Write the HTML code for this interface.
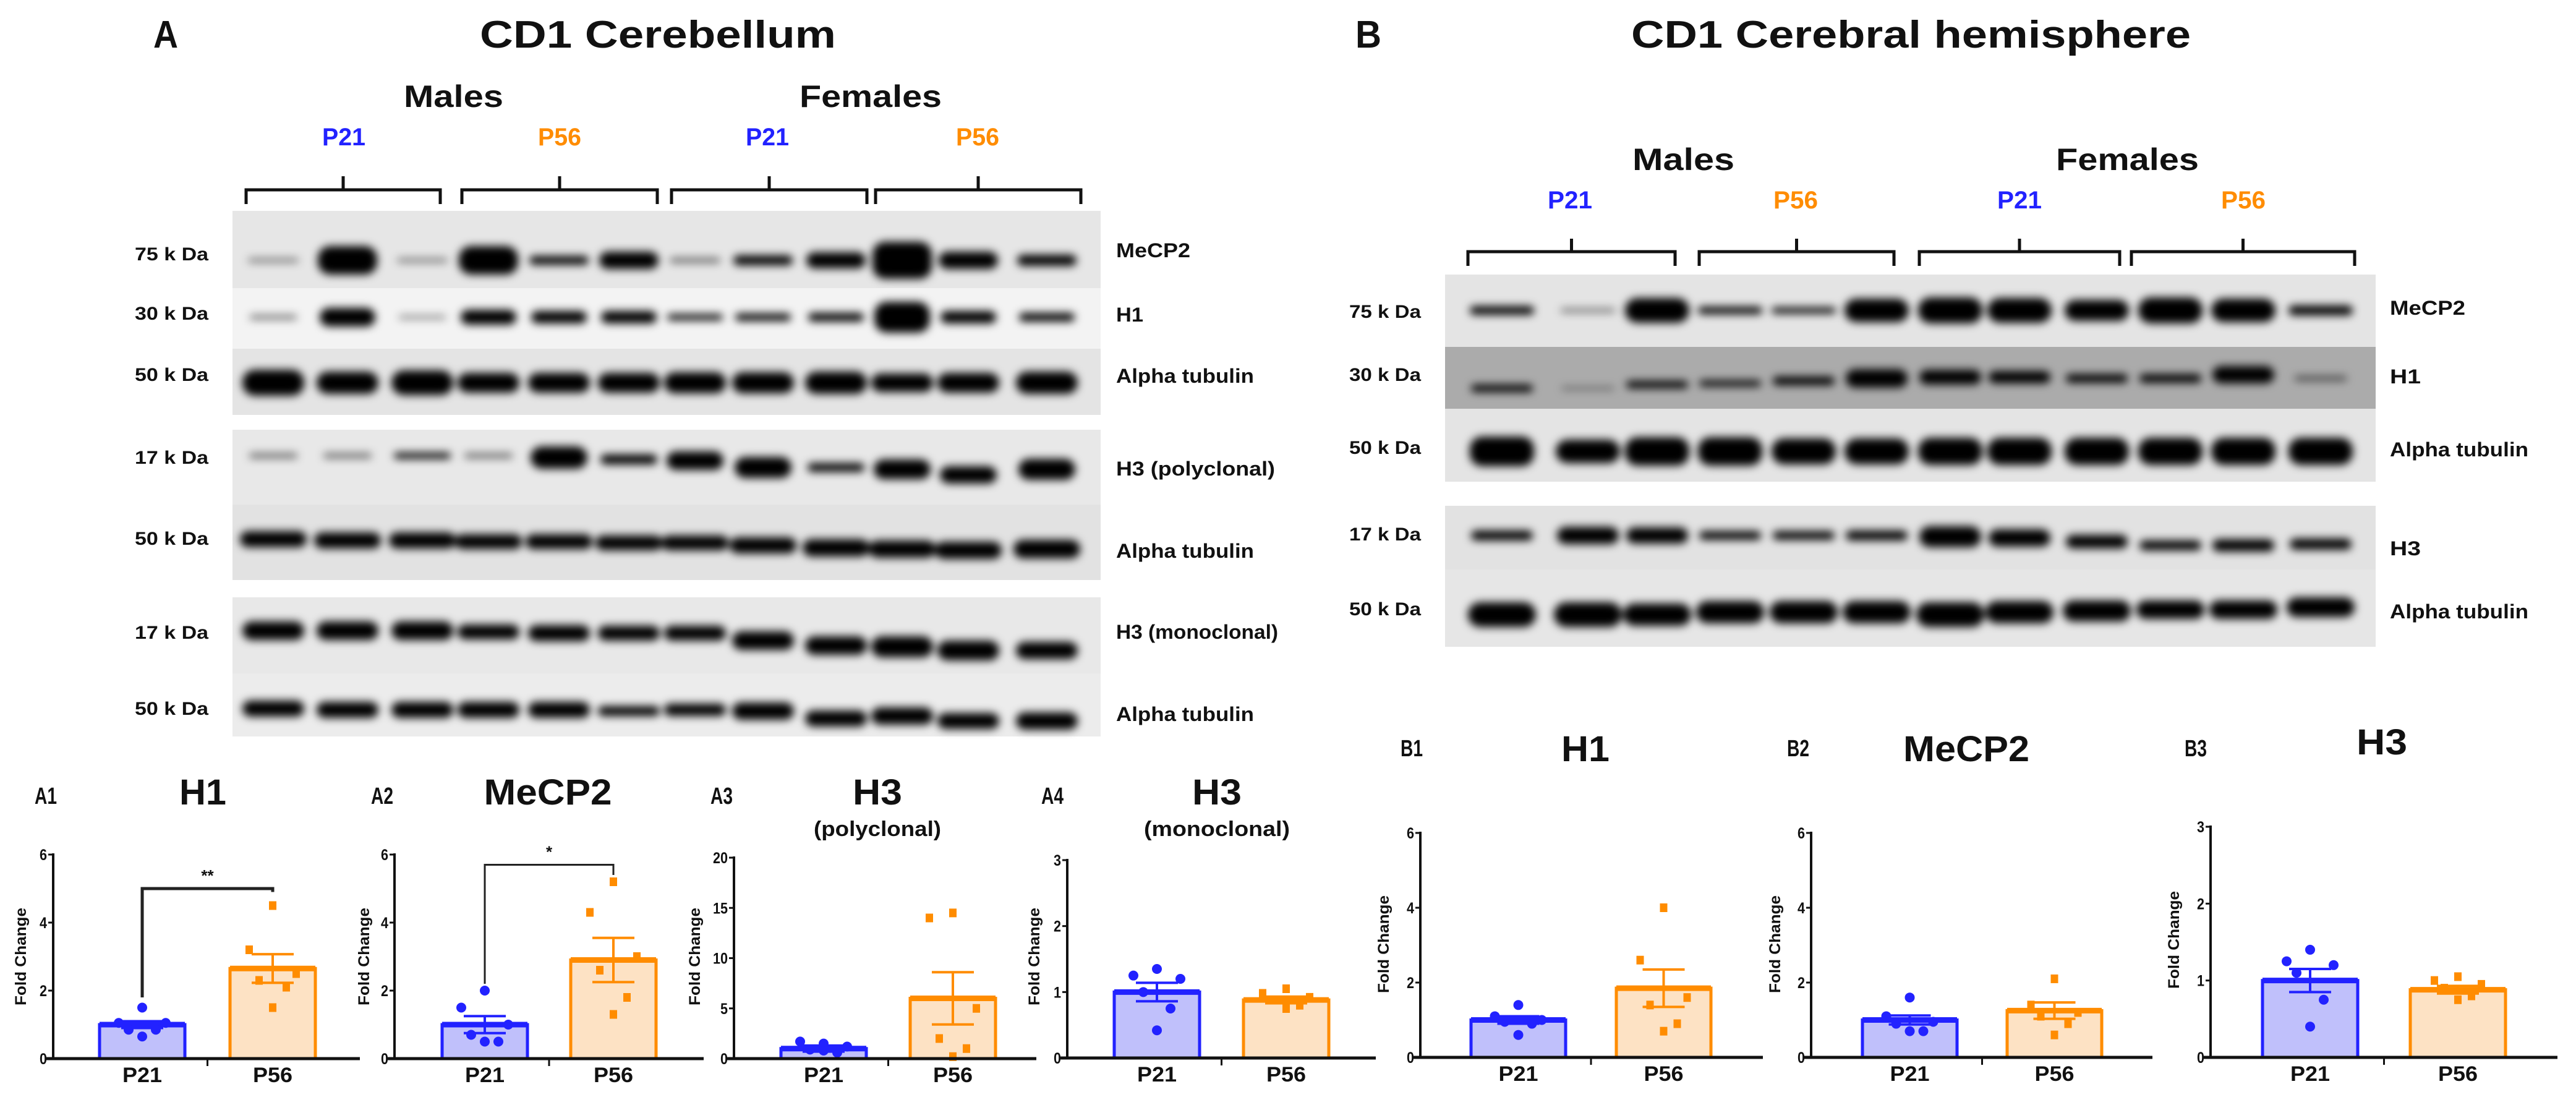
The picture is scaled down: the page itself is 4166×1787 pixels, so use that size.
<!DOCTYPE html>
<html><head><meta charset="utf-8"><style>
html,body{margin:0;padding:0;background:#fff;}
svg{display:block;}
text{font-family:"Liberation Sans",sans-serif;font-weight:bold;fill:#111;}
</style></head><body>
<svg id="fig" width="4166" height="1787" viewBox="0 0 4166 1787" xmlns="http://www.w3.org/2000/svg">
<defs>
<filter id="blur" x="-30%" y="-100%" width="160%" height="300%"><feGaussianBlur stdDeviation="7"/></filter>
</defs>
<g id="static">
<text x="248" y="77" font-size="62" textLength="40" lengthAdjust="spacingAndGlyphs">A</text>
<text x="776" y="77" font-size="62" textLength="576" lengthAdjust="spacingAndGlyphs">CD1 Cerebellum</text>
<text x="2192" y="77" font-size="62" textLength="42" lengthAdjust="spacingAndGlyphs">B</text>
<text x="2638" y="77" font-size="62" textLength="905" lengthAdjust="spacingAndGlyphs">CD1 Cerebral hemisphere</text>
<text x="653" y="173" font-size="50" textLength="161" lengthAdjust="spacingAndGlyphs">Males</text>
<text x="1293" y="173" font-size="50" textLength="230" lengthAdjust="spacingAndGlyphs">Females</text>
<text x="2640" y="275" font-size="50" textLength="165" lengthAdjust="spacingAndGlyphs">Males</text>
<text x="3325" y="275" font-size="50" textLength="231" lengthAdjust="spacingAndGlyphs">Females</text>
</g>
<g id="blots"></g>
<g id="charts"></g>
</svg>
<script>
// ---- chart data ----
const groups = ["P21","P56"];
const a1P21 = [1.5,1.05,1.05,0.85,0.85,0.65];
const a1P56 = [4.5,3.2,2.5,2.3,2.1,1.5];
const a1Mean = [1.0,2.65];
const a1Sem = [0.1,0.42];
const a2P21 = [2.0,1.5,1.0,0.7,0.5,0.5];
const a2P56 = [5.2,4.3,3.0,2.6,1.8,1.3];
const a2Mean = [1.0,2.9];
const a2Sem = [0.25,0.65];
const a3P21 = [1.5,1.7,1.2,0.9,0.6,0.8];
const a3P56 = [14.5,14.0,5.0,2.0,1.0,0.2];
const a3Mean = [1.0,6.0];
const a3Sem = [0.3,2.6];
const a4P21 = [1.35,1.25,1.2,1.0,0.75,0.42];
const a4P56 = [1.05,0.98,0.92,0.88,0.8,0.75];
const a4Mean = [1.0,0.88];
const a4Sem = [0.14,0.05];
const b1P21 = [1.4,1.1,1.0,0.95,0.9,0.6];
const b1P56 = [4.0,2.6,1.6,1.4,0.9,0.7];
const b1Mean = [1.0,1.85];
const b1Sem = [0.1,0.5];
const b2P21 = [1.6,1.1,0.95,0.9,0.7,0.7];
const b2P56 = [2.1,1.4,1.2,1.1,0.9,0.6];
const b2Mean = [1.0,1.25];
const b2Sem = [0.12,0.22];
const b3P21 = [1.4,1.25,1.2,1.1,0.75,0.4];
const b3P56 = [1.05,1.0,0.95,0.9,0.8,0.75];
const b3Mean = [1.0,0.88];
const b3Sem = [0.15,0.05];
const ticks6 = [0,2,4,6];
const ticks20 = [0,5,10,15,20];
const ticks3 = [0,1,2,3];

const NS="http://www.w3.org/2000/svg";
function mk(parent,tag,attrs,txt){const e=document.createElementNS(NS,tag);for(const k in attrs)e.setAttribute(k,attrs[k]);if(txt!==undefined)e.textContent=txt;parent.appendChild(e);return e;}

// ---- blots ----
const blots=document.getElementById('blots');
const laneA=[442,562,683,790,904,1017,1124,1234,1352,1459,1566,1693];
const laneB=[2429,2568,2680,2798,2917,3035,3154,3266,3391,3510,3628,3753];
function strip(x0,x1,y0,y1,bg,lanes,ys,th,w,name){
  const g=mk(blots,'g',{});
  
  
  mk(g,'rect',{x:x0,y:y0,width:x1-x0,height:y1-y0,fill:bg});
  const bg2=mk(g,'g',{filter:'url(#blur)'});
  lanes.forEach((cx,i)=>{
    const t=th[i], y=Array.isArray(ys)?ys[i]:ys;
    const ww=w*(t<10?0.85:1);
    const b=mk(bg2,'rect',{x:cx-ww/2,y:y-t/2,width:ww,height:t,rx:Math.min(t/2,20),fill:'#000',opacity:t<10?0.6:1});
    
    
  });
}
strip(376,1780,341,466,'#e6e6e6',laneA,421,[6,46,6,46,14,28,8,16,26,60,28,18],96,'a-mecp2-blot');
strip(376,1780,466,564,'#f3f3f3',laneA,513,[7,30,5,24,20,20,10,12,14,50,20,14],90,'a-h1-blot');
strip(376,1780,564,671,'#e4e4e4',laneA,619,[42,36,40,32,32,32,34,34,36,30,32,36],100,'a-tubulin-blot-1');
strip(376,1780,695,816,'#e8e8e8',laneA,[737,737,737,737,740,743,745,756,756,759,768,759],[8,8,10,8,36,16,30,34,14,32,28,34],92,'a-h3-poly-blot');
strip(376,1780,816,938,'#e2e2e2',laneA,[872,874,874,876,876,878,878,882,886,888,890,888],[26,26,26,24,24,24,24,26,28,28,28,30],108,'a-tubulin-blot-2');
strip(376,1780,966,1089,'#e8e8e8',laneA,[1020,1020,1020,1022,1024,1024,1024,1036,1044,1046,1052,1052],[30,30,30,24,26,24,24,30,30,34,32,28],100,'a-h3-mono-blot');
strip(376,1780,1089,1191,'#ececec',laneA,[1146,1148,1148,1148,1148,1150,1148,1150,1162,1158,1166,1166],[26,26,26,26,26,16,20,28,26,28,26,28],100,'a-tubulin-blot-3');
strip(2337,3842,444,561,'#e4e4e4',laneB,502,[14,6,40,12,10,38,42,40,34,42,38,16],104,'b-mecp2-blot');
strip(2337,3842,561,661,'#ababab',laneB,[628,628,622,620,616,612,610,610,612,612,606,612],[12,4,12,10,14,30,24,20,14,14,28,8],100,'b-h1-blot');
strip(2337,3842,661,779,'#e4e4e4',laneB,730,[48,38,46,46,42,42,44,44,44,44,44,44],104,'b-tubulin-blot-1');
strip(2337,3842,818,921,'#e2e2e2',laneB,[866,866,866,866,866,866,868,870,876,882,882,880],[16,28,26,14,14,16,34,28,22,16,20,18],100,'b-h3-blot');
strip(2337,3842,921,1046,'#e6e6e6',laneB,[994,994,994,990,990,990,994,990,988,986,986,982],[40,40,36,36,36,36,40,36,34,30,30,32],110,'b-tubulin-blot-2');

function txt(x,y,s,str,anchor,len,fill,name){
  const t=mk(blots,'text',{x:x,y:y,'font-size':s,'text-anchor':anchor||'start'},str);
  if(len){t.setAttribute('textLength',len);t.setAttribute('lengthAdjust','spacingAndGlyphs');}
  if(fill)t.setAttribute('style','fill:'+fill);
  
  
}
const BLUE='#2222ff', ORANGE='#ff8c00';
function bracket(x0,x1,yTop,yBar,yBot,name){
  const p=mk(blots,'path',{d:`M${x0} ${yBot} V${yBar} H${x1} V${yBot} M${(x0+x1)/2} ${yBar} V${yTop}`,fill:'none',stroke:'#111','stroke-width':5});
  
  
}
[[398,712],[747,1063],[1086,1402],[1416,1748]].forEach(r=>bracket(r[0],r[1],285,307,330,'a-bracket'));
[[2374,2709],[2748,3063],[3104,3428],[3447,3808]].forEach(r=>bracket(r[0],r[1],386,407,430,'b-bracket'));
[[556,'P21',BLUE],[905,'P56',ORANGE],[1241,'P21',BLUE],[1581,'P56',ORANGE]].forEach(a=>txt(a[0],235,40,a[1],'middle',70,a[2],'a-age-label'));
[[2539,'P21',BLUE],[2904,'P56',ORANGE],[3266,'P21',BLUE],[3628,'P56',ORANGE]].forEach(a=>txt(a[0],337,40,a[1],'middle',72,a[2],'b-age-label'));
[[421,'75 k Da'],[517,'30 k Da'],[616,'50 k Da'],[750,'17 k Da'],[881,'50 k Da'],[1033,'17 k Da'],[1156,'50 k Da']].forEach(a=>txt(337,a[0],30,a[1],'end',119,null,'a-kda-label'));
[[514,'75 k Da'],[616,'30 k Da'],[734,'50 k Da'],[874,'17 k Da'],[995,'50 k Da']].forEach(a=>txt(2298,a[0],30,a[1],'end',116,null,'b-kda-label'));
[[416,'MeCP2',120],[520,'H1',44],[619,'Alpha tubulin',223],[769,'H3 (polyclonal)',257],[902,'Alpha tubulin',223],[1033,'H3 (monoclonal)',262],[1166,'Alpha tubulin',223]].forEach(a=>txt(1805,a[0],32,a[1],'start',a[2],null,'a-protein-label'));
[[509,'MeCP2',122],[620,'H1',50],[738,'Alpha tubulin',224],[898,'H3',50],[1000,'Alpha tubulin',224]].forEach(a=>txt(3865,a[0],32,a[1],'start',a[2],null,'b-protein-label'));

// ---- charts ----
const charts=document.getElementById('charts');
const jit=[0,-38,38,-22,22,0];
function chart(o){
  const g=mk(charts,'g',{});
  
  
  const y=v=>o.y0-(v/o.max)*(o.y0-o.yTop);
  const bx=[o.ax+o.b1,o.ax+o.b2];
  const l=mk(g,'text',{x:o.lx,y:o.ly,'font-size':38,textLength:36,lengthAdjust:'spacingAndGlyphs'},o.label);
  
  
  const t=mk(g,'text',{x:o.tx,y:o.ty,'font-size':58,'text-anchor':'middle',textLength:o.tw,lengthAdjust:'spacingAndGlyphs'},o.title);
  
  
  if(o.sub){const s=mk(g,'text',{x:o.tx,y:o.ty+51,'font-size':34,'text-anchor':'middle',textLength:o.subw,lengthAdjust:'spacingAndGlyphs'},o.sub);
    
    }
  const yl=mk(g,'text',{x:0,y:0,'font-size':25,'text-anchor':'middle',transform:`translate(${o.fx},${o.fy}) rotate(-90)`,textLength:158,lengthAdjust:'spacingAndGlyphs'},'Fold Change');
  
  
  const ya=mk(g,'line',{x1:o.ax,y1:o.yTop-2,x2:o.ax,y2:o.y0,stroke:'#111','stroke-width':4});
  
  
  o.ticks.forEach(v=>{
    mk(g,'line',{x1:o.ax-8,y1:y(v),x2:o.ax,y2:y(v),stroke:'#111','stroke-width':3});
    const tl=mk(g,'text',{x:o.ax-10,y:y(v)+9,'font-size':25,'text-anchor':'end',textLength:(String(v).length*12),lengthAdjust:'spacingAndGlyphs'},String(v));
    
    
  });
  const cols=[[BLUE,'#c0c0fb'],[ORANGE,'#fde2c4']];
  const pts=[o.p21,o.p56];
  groups.forEach((gname,i)=>{
    const top=y(o.mean[i]);
    const b=mk(g,'rect',{x:bx[i],y:top,width:o.bw,height:o.y0-top,fill:cols[i][1],stroke:cols[i][0],'stroke-width':5});
    
    
    mk(g,'line',{x1:bx[i],y1:top,x2:bx[i]+o.bw,y2:top,stroke:cols[i][0],'stroke-width':9});
    const cx=bx[i]+o.bw/2;
    pts[i].forEach((v,k)=>{
      let p;
      if(i==0)p=mk(g,'circle',{cx:cx+jit[k],cy:y(v),r:8,fill:cols[i][0]});
      else p=mk(g,'rect',{x:cx+jit[k]-6,y:y(v)-7,width:12,height:14,fill:cols[i][0]});
      
      
    });
    const lo=y(o.mean[i]-o.sem[i]),hi=y(o.mean[i]+o.sem[i]);
    const eb=mk(g,'path',{d:`M${cx} ${lo} V${hi} M${cx-34} ${hi} H${cx+34} M${cx-34} ${lo} H${cx+34}`,stroke:cols[i][0],'stroke-width':4,fill:'none'});
    
    
    const xl=mk(g,'text',{x:cx,y:o.y0+38,'font-size':34,'text-anchor':'middle',textLength:64,lengthAdjust:'spacingAndGlyphs'},gname);
    
    
  });
  const xa=mk(g,'line',{x1:o.ax-12,y1:o.y0,x2:o.xe,y2:o.y0,stroke:'#111','stroke-width':5});
  
  
  const mid=(bx[0]+o.bw+bx[1])/2;
  mk(g,'line',{x1:mid,y1:o.y0,x2:mid,y2:o.y0+12,stroke:'#111','stroke-width':3});
  if(o.sig){
    const c0=bx[0]+o.bw/2,c1=bx[1]+o.bw/2;
    const s=mk(g,'path',{d:`M${c0} ${y(o.sig[1])} V${y(o.sig[0])} H${c1} V${y(o.sig[2])}`,fill:'none',stroke:'#222','stroke-width':o.sig[4]});
    
    
    const st=mk(g,'text',{x:(c0+c1)/2,y:y(o.sig[0])-12,'font-size':26,'text-anchor':'middle'},o.sig[3]);
    
    
  }
}
chart({name:'chart-a1',label:'A1',lx:56,ly:1300,title:'H1',tx:328,ty:1301,tw:76,ax:86,xe:582,y0:1712,yTop:1382,max:6,ticks:ticks6,b1:75,b2:286,bw:138,p21:a1P21,p56:a1P56,mean:a1Mean,sem:a1Sem,fx:42,fy:1547,sig:[5.0,1.8,4.9,'**',5]});
chart({name:'chart-a2',label:'A2',lx:600,ly:1300,title:'MeCP2',tx:886,ty:1301,tw:207,ax:638,xe:1138,y0:1712,yTop:1382,max:6,ticks:ticks6,b1:77,b2:285,bw:138,p21:a2P21,p56:a2P56,mean:a2Mean,sem:a2Sem,fx:597,fy:1547,sig:[5.7,2.2,5.4,'*',3]});
chart({name:'chart-a3',label:'A3',lx:1149,ly:1300,title:'H3',tx:1419,ty:1301,tw:80,sub:'(polyclonal)',subw:206,ax:1187,xe:1676,y0:1712,yTop:1387,max:20,ticks:ticks20,b1:76,b2:285,bw:138,p21:a3P21,p56:a3P56,mean:a3Mean,sem:a3Sem,fx:1132,fy:1547});
chart({name:'chart-a4',label:'A4',lx:1684,ly:1300,title:'H3',tx:1968,ty:1301,tw:80,sub:'(monoclonal)',subw:236,ax:1726,xe:2225,y0:1711,yTop:1391,max:3,ticks:ticks3,b1:76,b2:285,bw:138,p21:a4P21,p56:a4P56,mean:a4Mean,sem:a4Sem,fx:1681,fy:1547});
chart({name:'chart-b1',label:'B1',lx:2265,ly:1223,title:'H1',tx:2564,ty:1231,tw:78,ax:2297,xe:2851,y0:1710,yTop:1347,max:6,ticks:ticks6,b1:82,b2:317,bw:153,p21:b1P21,p56:b1P56,mean:b1Mean,sem:b1Sem,fx:2246,fy:1527});
chart({name:'chart-b2',label:'B2',lx:2890,ly:1223,title:'MeCP2',tx:3180,ty:1231,tw:204,ax:2929,xe:3481,y0:1710,yTop:1347,max:6,ticks:ticks6,b1:83,b2:317,bw:153,p21:b2P21,p56:b2P56,mean:b2Mean,sem:b2Sem,fx:2879,fy:1527});
chart({name:'chart-b3',label:'B3',lx:3533,ly:1223,title:'H3',tx:3852,ty:1220,tw:82,ax:3575,xe:4136,y0:1710,yTop:1337,max:3,ticks:ticks3,b1:84,b2:323,bw:154,p21:b3P21,p56:b3P56,mean:b3Mean,sem:b3Sem,fx:3524,fy:1520});
</script>
</body></html>
